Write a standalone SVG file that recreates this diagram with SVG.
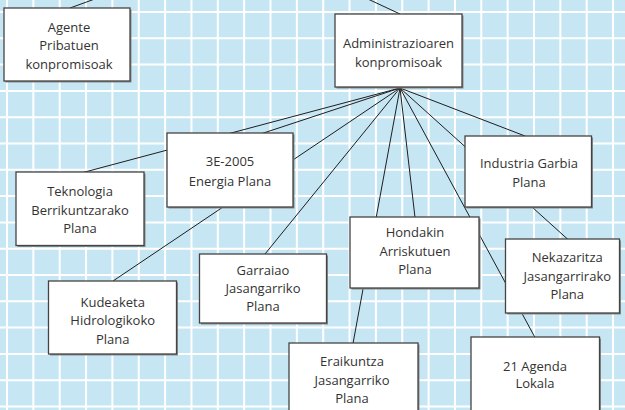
<svg xmlns="http://www.w3.org/2000/svg" width="625" height="410" viewBox="0 0 625 410">
<style>
.bg{fill:#c7e6f3}
.grid{stroke:#ffffff;stroke-width:2;fill:none}
.edge{stroke:#1e1e1e;stroke-width:1;fill:none}
.box{fill:#ffffff;stroke:#444;stroke-width:1.3}
.sh{fill:#8a8a8a}
.t{font-family:"Open Sans","Noto Sans",sans-serif;font-size:13px;fill:#333;text-anchor:middle}
</style>
<rect class="bg" x="0" y="0" width="625" height="410"/>
<path class="grid" d="M7 0V410M33.35 0V410M59.7 0V410M86.05 0V410M112.4 0V410M138.75 0V410M165.1 0V410M191.45 0V410M217.8 0V410M244.15 0V410M270.5 0V410M296.85 0V410M323.2 0V410M349.55 0V410M375.9 0V410M402.25 0V410M428.6 0V410M454.95 0V410M481.3 0V410M507.65 0V410M534 0V410M560.35 0V410M586.7 0V410M613.05 0V410M0 12H625M0 38.3H625M0 64.6H625M0 90.9H625M0 117.2H625M0 143.5H625M0 169.8H625M0 196.1H625M0 222.4H625M0 248.7H625M0 275H625M0 301.3H625M0 327.6H625M0 353.9H625M0 380.2H625M0 406.5H625"/>
<g id="connectors">
<path class="edge" d="M70 8L110 -6.5M400 14L355 -7M400 88L83 172.5M400 88L262 133.5M400 88L113 281M400 88L265 254M400 88L353 343.5M400 88L415 217.5M400 88L535 337.5M400 88L568 239.5M400 88L525 136"/>
</g>
<g id="agente">
<rect class="sh" x="5.5" y="9.5" width="126" height="73"/>
<rect class="box" x="4" y="8" width="126" height="73"/>
<text class="t" x="69" y="32">Agente</text>
<text class="t" x="69" y="50.2">Pribatuen</text>
<text class="t" x="69" y="68.5">konpromisoak</text>
</g>
<g id="administrazioa">
<rect class="sh" x="336.5" y="15.5" width="127" height="73"/>
<rect class="box" x="335" y="14" width="127" height="73"/>
<text class="t" x="398.5" y="47.8">Administrazioaren</text>
<text class="t" x="398.5" y="67.2">konpromisoak</text>
</g>
<g id="teknologia">
<rect class="sh" x="17.5" y="173.5" width="128" height="73.5"/>
<rect class="box" x="16" y="172" width="128" height="73.5"/>
<text class="t" x="80" y="196.2">Teknologia</text>
<text class="t" x="80" y="214.5">Berrikuntzarako</text>
<text class="t" x="80" y="232.5">Plana</text>
</g>
<g id="energia">
<rect class="sh" x="168.5" y="134.5" width="126" height="74"/>
<rect class="box" x="167" y="133" width="126" height="74"/>
<text class="t" x="230" y="166.2">3E-2005</text>
<text class="t" x="230" y="185.5">Energia Plana</text>
</g>
<g id="kudeaketa">
<rect class="sh" x="50" y="282.5" width="128" height="73"/>
<rect class="box" x="48.5" y="281" width="128" height="73"/>
<text class="t" x="112.7" y="306.5">Kudeaketa</text>
<text class="t" x="112.7" y="325.2">Hidrologikoko</text>
<text class="t" x="112.7" y="343.8">Plana</text>
</g>
<g id="garraiao">
<rect class="sh" x="201" y="255.5" width="127" height="69"/>
<rect class="box" x="199.5" y="254" width="127" height="69"/>
<text class="t" x="263" y="274.5">Garraiao</text>
<text class="t" x="263" y="292.8">Jasangarriko</text>
<text class="t" x="263" y="310.5">Plana</text>
</g>
<g id="hondakin">
<rect class="sh" x="351.5" y="218.5" width="129" height="71"/>
<rect class="box" x="350" y="217" width="129" height="71"/>
<text class="t" x="415" y="236.8">Hondakin</text>
<text class="t" x="415" y="255.5">Arriskutuen</text>
<text class="t" x="415" y="273.5">Plana</text>
</g>
<g id="industria">
<rect class="sh" x="466.5" y="137.5" width="126.5" height="71"/>
<rect class="box" x="465" y="136" width="126.5" height="71"/>
<text class="t" x="529" y="167.8">Industria Garbia</text>
<text class="t" x="529" y="186.8">Plana</text>
</g>
<g id="nekazaritza">
<rect class="sh" x="507" y="240.5" width="114" height="74"/>
<rect class="box" x="505.5" y="239" width="114" height="74"/>
<text class="t" x="567.3" y="261.8">Nekazaritza</text>
<text class="t" x="567.3" y="280.5">Jasangarrirako</text>
<text class="t" x="567.3" y="298.8">Plana</text>
</g>
<g id="eraikuntza">
<rect class="sh" x="290.5" y="344.5" width="129" height="75"/>
<rect class="box" x="289" y="343" width="129" height="75"/>
<text class="t" x="352" y="366.2">Eraikuntza</text>
<text class="t" x="352" y="384.5">Jasangarriko</text>
<text class="t" x="352" y="402.8">Plana</text>
</g>
<g id="agenda21">
<rect class="sh" x="472.5" y="338.5" width="128.5" height="80"/>
<rect class="box" x="471" y="337" width="128.5" height="80"/>
<text class="t" x="535" y="370.5">21 Agenda</text>
<text class="t" x="535" y="387.8">Lokala</text>
</g>
</svg>
